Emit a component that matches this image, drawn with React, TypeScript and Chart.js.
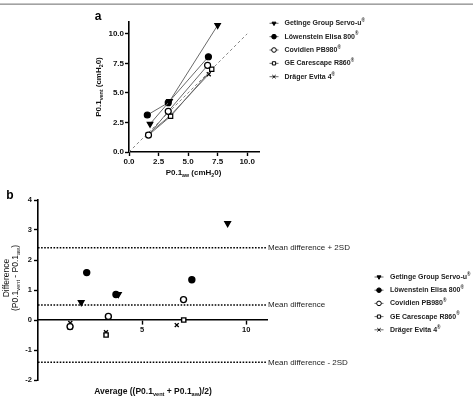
import React, { useEffect, useRef } from 'react';
import { Chart, registerables } from 'chart.js';
import { drawPoint } from 'chart.js/helpers';

Chart.register(...registerables);

// ---------- data ----------
const deviceNames = [
  'Getinge Group Servo-u',
  'Löwenstein Elisa 800',
  'Covidien PB980',
  'GE Carescape R860',
  'Dräger Evita 4',
];
// P0.1 airway (x) and P0.1 ventilator (y), three measurements per device
const servoAw = [1.78, 3.43, 7.5];
const servoVent = [2.37, 4.29, 10.72];
const loewAw = [1.55, 3.32, 6.72];
const loewVent = [3.13, 4.17, 8.06];
const covAw = [1.65, 3.32, 6.65];
const covVent = [1.43, 3.44, 7.33];
const geAw = [1.65, 3.52, 7.0];
const geVent = [1.43, 3.02, 7.0];
const dragAw = [1.6, 3.47, 6.75];
const dragVent = [1.5, 3.06, 6.58];

const awSeries = [servoAw, loewAw, covAw, geAw, dragAw];
const ventSeries = [servoVent, loewVent, covVent, geVent, dragVent];

// Bland-Altman reference lines
const meanDifference = 0.5;
const upperLimit = 2.41;
const lowerLimit = -1.41;
const limitLabels = ['Mean difference + 2SD', 'Mean difference', 'Mean difference - 2SD'];
const limitValues = [upperLimit, meanDifference, lowerLimit];

// axes
const ticksA = [0, 2.5, 5, 7.5, 10];
const ticksBx = [5, 10];
const ticksBy = [-2, -1, 0, 1, 2, 3, 4];
const identityLine = [0, 10];

// ---------- styles ----------
const FONT = '"Liberation Sans", Arial, Helvetica, sans-serif';
const markerStyles = ['triangle', 'circle', 'circle', 'rect', 'crossRot'];
const markerRot = [180, 0, 0, 0, 0];
const markerFill = ['#000', '#000', '#fff', '#fff', '#000'];
const markerRadius = [3.2, 3, 3, 3, 2.8];

type Seg = { t: string; s?: 'sub' | 'sup' };

function drawRich(
  ctx: CanvasRenderingContext2D,
  segs: Seg[],
  x: number,
  y: number,
  size: number,
  weight: string,
  align: 'left' | 'center',
  color = '#111'
) {
  ctx.save();
  ctx.textBaseline = 'middle';
  ctx.textAlign = 'left';
  ctx.fillStyle = color;
  const fontFor = (s?: string) => `${weight} ${s ? size * 0.66 : size}px ${FONT}`;
  let w = 0;
  for (const seg of segs) {
    ctx.font = fontFor(seg.s);
    w += ctx.measureText(seg.t).width;
  }
  let cx = align === 'center' ? x - w / 2 : x;
  for (const seg of segs) {
    ctx.font = fontFor(seg.s);
    const dy = seg.s === 'sub' ? size * 0.32 : seg.s === 'sup' ? -size * 0.35 : 0;
    ctx.fillText(seg.t, cx, y + dy);
    cx += ctx.measureText(seg.t).width;
  }
  ctx.restore();
}

function drawLegend(ctx: CanvasRenderingContext2D, mx: number, tx: number, y0: number, dy: number, size: number) {
  deviceNames.forEach((name, i) => {
    const y = y0 + dy * i;
    ctx.save();
    ctx.strokeStyle = '#444';
    ctx.lineWidth = 0.8;
    ctx.beginPath();
    ctx.moveTo(mx - 4.5, y);
    ctx.lineTo(mx + 4.5, y);
    ctx.stroke();
    ctx.fillStyle = markerFill[i];
    ctx.strokeStyle = '#000';
    ctx.lineWidth = 1;
    drawPoint(ctx, { pointStyle: markerStyles[i] as any, rotation: markerRot[i], radius: 2.3, borderWidth: 1 }, mx, y);
    ctx.restore();
    drawRich(ctx, [{ t: name }, { t: '®', s: 'sup' }], tx, y, size, 'bold', 'left', '#222');
  });
}

function baseScale(extra: any) {
  return {
    type: 'linear',
    border: { display: true, color: '#000', width: 1.6 },
    grid: { display: true, drawOnChartArea: false, drawTicks: true, tickLength: 4, tickColor: '#000', tickWidth: 1.4 },
    title: { display: false },
    ...extra,
  };
}

export default function App() {
  const refA = useRef<HTMLCanvasElement>(null);
  const refB = useRef<HTMLCanvasElement>(null);

  useEffect(() => {
    // ---------------- chart a ----------------
    const dsA: any[] = awSeries.map((aw, i) => ({
      label: deviceNames[i],
      data: aw.map((x, k) => ({ x, y: ventSeries[i][k] })),
      showLine: true,
      borderColor: '#6a6a6a',
      borderWidth: 1,
      pointStyle: markerStyles[i],
      pointRotation: markerRot[i],
      pointRadius: markerRadius[i],
      pointBackgroundColor: markerFill[i],
      pointBorderColor: '#000',
      pointBorderWidth: 1.2,
    }));
    dsA.push({
      label: 'identity',
      data: identityLine.map((v) => ({ x: v, y: v })),
      showLine: true,
      borderColor: '#888',
      borderWidth: 1,
      borderDash: [3, 2.5],
      pointRadius: 0,
    });

    const tickFontA = { family: FONT, size: 8, weight: 'bold' as const };
    const pluginA = {
      id: 'decoA',
      afterDraw(chart: any) {
        const ctx: CanvasRenderingContext2D = chart.ctx;
        ctx.save();
        ctx.fillStyle = '#8c8c8c';
        ctx.fillRect(0, 3.5, 473, 1.3);
        ctx.restore();
        drawRich(ctx, [{ t: 'a' }], 98, 17, 12, 'bold', 'center', '#000');
        ctx.save();
        ctx.translate(99, 87);
        ctx.rotate(-Math.PI / 2);
        drawRich(ctx, [{ t: 'P0.1' }, { t: 'vent', s: 'sub' }, { t: ' (cmH' }, { t: '2', s: 'sub' }, { t: '0)' }], 0, 0, 8, 'bold', 'center');
        ctx.restore();
        drawRich(ctx, [{ t: 'P0.1' }, { t: 'aw', s: 'sub' }, { t: ' (cmH' }, { t: '2', s: 'sub' }, { t: '0)' }], 193.5, 173, 8, 'bold', 'center');
        drawLegend(ctx, 274, 284.5, 23.3, 13.35, 7);
      },
    };

    const chartA = new Chart(refA.current!, {
      type: 'scatter',
      data: { datasets: dsA },
      options: {
        responsive: false,
        animation: false,
        events: [],
        layout: { padding: { left: 0, right: 217, top: 22, bottom: 0 } },
        plugins: { legend: { display: false }, tooltip: { enabled: false } },
        scales: {
          x: baseScale({
            min: 0,
            max: 11,
            afterFit: (s: any) => { s.height = 33; },
            afterBuildTicks: (s: any) => { s.ticks = ticksA.map((value) => ({ value })); },
            ticks: { font: tickFontA, color: '#111', padding: 1, maxRotation: 0, callback: (v: any) => Number(v).toFixed(1) },
          }),
          y: baseScale({
            min: 0,
            max: 11,
            afterFit: (s: any) => { s.width = 129; },
            afterBuildTicks: (s: any) => { s.ticks = ticksA.map((value) => ({ value })); },
            ticks: { font: tickFontA, color: '#111', padding: 1, callback: (v: any) => Number(v).toFixed(1) },
          }),
        },
      } as any,
      plugins: [pluginA],
    });

    // ---------------- chart b ----------------
    const dsB: any[] = awSeries.map((aw, i) => ({
      label: deviceNames[i],
      data: aw.map((a, k) => ({ x: (a + ventSeries[i][k]) / 2, y: ventSeries[i][k] - a })),
      showLine: false,
      pointStyle: markerStyles[i],
      pointRotation: markerRot[i],
      pointRadius: markerRadius[i],
      pointBackgroundColor: markerFill[i],
      pointBorderColor: '#000',
      pointBorderWidth: 1.4,
    }));
    limitValues.forEach((v, i) => {
      dsB.push({
        label: limitLabels[i],
        data: [{ x: 0, y: v }, { x: 11, y: v }],
        showLine: true,
        borderColor: '#000',
        borderWidth: 1.6,
        borderDash: [1.6, 1.5],
        pointRadius: 0,
        clip: false,
      });
    });

    const tickFontB = { family: FONT, size: 7.5, weight: 'bold' as const };
    const pluginB = {
      id: 'decoB',
      afterDraw(chart: any) {
        const ctx: CanvasRenderingContext2D = chart.ctx;
        drawRich(ctx, [{ t: 'b' }], 10, 11, 12, 'bold', 'center', '#000');
        ctx.save();
        ctx.translate(7, 93);
        ctx.rotate(-Math.PI / 2);
        drawRich(ctx, [{ t: 'Difference' }], 0, 0, 8.5, 'normal', 'center');
        ctx.restore();
        ctx.save();
        ctx.translate(16, 93);
        ctx.rotate(-Math.PI / 2);
        drawRich(ctx, [{ t: '(P0.1' }, { t: 'vent', s: 'sub' }, { t: ' - P0.1' }, { t: 'aw', s: 'sub' }, { t: ')' }], 0, 0, 8.5, 'normal', 'center');
        ctx.restore();
        drawRich(
          ctx,
          [{ t: 'Average ((P0.1' }, { t: 'vent', s: 'sub' }, { t: ' + P0.1' }, { t: 'aw', s: 'sub' }, { t: ')/2)' }],
          153,
          207,
          8.5,
          'bold',
          'center'
        );
        const ys = chart.scales.y;
        const xr = chart.scales.x.getPixelForValue(11);
        limitValues.forEach((v, i) => {
          drawRich(ctx, [{ t: limitLabels[i] }], xr + 1, ys.getPixelForValue(v), 8, 'normal', 'left', '#222');
        });
        drawLegend(ctx, 379, 390, 92, 13.2, 7);
      },
    };

    const chartB = new Chart(refB.current!, {
      type: 'scatter',
      data: { datasets: dsB },
      options: {
        responsive: false,
        animation: false,
        events: [],
        layout: { padding: { left: 0, right: 209, top: 15, bottom: 22 } },
        plugins: { legend: { display: false }, tooltip: { enabled: false } },
        scales: {
          x: baseScale({
            min: 0,
            max: 11,
            position: { y: 0 },
            afterBuildTicks: (s: any) => { s.ticks = ticksBx.map((value) => ({ value })); },
            ticks: { font: tickFontB, color: '#111', padding: 1, maxRotation: 0 },
          }),
          y: baseScale({
            min: -2,
            max: 4,
            afterFit: (s: any) => { s.width = 38; },
            afterBuildTicks: (s: any) => { s.ticks = ticksBy.map((value) => ({ value })); },
            ticks: { font: tickFontB, color: '#111', padding: 2 },
          }),
        },
      } as any,
      plugins: [pluginB],
    });

    return () => {
      chartA.destroy();
      chartB.destroy();
    };
  }, []);

  return (
    <div style={{ position: 'fixed', left: 0, top: 0, width: 476, height: 402, background: '#fff' }}>
      <canvas ref={refA} width={476} height={185} style={{ position: 'absolute', left: 0, top: 0, width: 476, height: 185 }} />
      <canvas ref={refB} width={476} height={217} style={{ position: 'absolute', left: 0, top: 185, width: 476, height: 217 }} />
    </div>
  );
}
